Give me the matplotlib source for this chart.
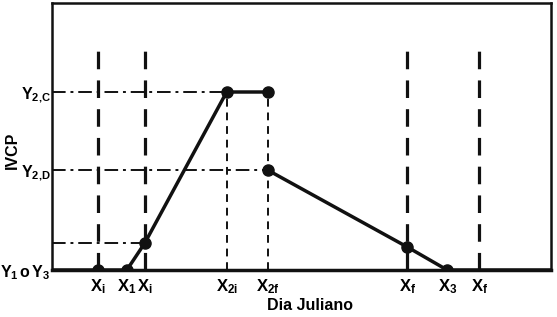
import matplotlib.pyplot as plt

plt.rcParams["font.family"] = ["Liberation Sans", "DejaVu Sans"]
plt.rcParams["mathtext.fontset"] = "custom"
plt.rcParams["mathtext.rm"] = "Liberation Sans"
plt.rcParams["mathtext.it"] = "Liberation Sans"
plt.rcParams["mathtext.bf"] = "Liberation Sans:bold"

# key positions on the Julian day axis (arbitrary units)
x_key = {"Xi_a": 46, "X1": 75, "Xi_b": 93, "X2i": 175, "X2f": 216,
         "Xf_a": 356, "X3": 396, "Xf_b": 428}
y_key = {"base": 0, "Y2D": 100, "Y2C": 178, "low": 27, "xf_pt": 23}

# curve segments
seg1_x = [0, x_key["Xi_a"], x_key["X1"], x_key["Xi_b"], x_key["X2i"], x_key["X2f"]]
seg1_y = [0, 0, 0, y_key["low"], y_key["Y2C"], y_key["Y2C"]]
seg2_x = [x_key["X2f"], x_key["Xf_a"], x_key["X3"], 500]
seg2_y = [y_key["Y2D"], y_key["xf_pt"], 0, 0]

mark_x = [x_key["Xi_a"], x_key["X1"], x_key["Xi_b"], x_key["X2i"], x_key["X2f"],
          x_key["X2f"], x_key["Xf_a"], x_key["X3"]]
mark_y = [0, 0, y_key["low"], y_key["Y2C"], y_key["Y2C"], y_key["Y2D"], y_key["xf_pt"], 0]

xtick_pos = [x_key["Xi_a"], x_key["X1"], x_key["Xi_b"], x_key["X2i"], x_key["X2f"],
             x_key["Xf_a"], x_key["X3"], x_key["Xf_b"]]
xtick_lab = [r"$\mathbf{X_i}$", r"$\mathbf{X_1}$", r"$\mathbf{X_i}$", r"$\mathbf{X_{2i}}$",
             r"$\mathbf{X_{2f}}$", r"$\mathbf{X_f}$", r"$\mathbf{X_3}$", r"$\mathbf{X_f}$"]
ytick_pos = [0, y_key["Y2D"], y_key["Y2C"]]
ytick_lab = [r"$\mathbf{Y_1\,o\,Y_3}$", r"$\mathbf{Y_{2{,}D}}$", r"$\mathbf{Y_{2{,}C}}$"]

fig = plt.figure(figsize=(5.57, 3.17), dpi=100)
ax = fig.add_axes([52 / 557, 47 / 317, 499 / 557, 267 / 317])
ax.set_xlim(0, 500)
ax.set_ylim(0, 267)

# long thick dashed verticals
for xv in [x_key["Xi_a"], x_key["Xi_b"], x_key["Xf_a"], x_key["Xf_b"]]:
    ax.plot([xv, xv], [0, 225], color="#111111", lw=2.3, dashes=(5.5, 3.5))

# thin dashed verticals from the plateau
for xv in [x_key["X2i"], x_key["X2f"]]:
    ax.plot([xv, xv], [0, y_key["Y2C"]], color="#111111", lw=1.4, dashes=(4, 3))

# dash-dot horizontals
dd = (7, 2.5, 1.5, 2.5)
ax.plot([0, x_key["X2i"]], [y_key["Y2C"]] * 2, color="#111111", lw=1.4, dashes=dd)
ax.plot([0, x_key["X2f"]], [y_key["Y2D"]] * 2, color="#111111", lw=1.4, dashes=dd)
ax.plot([0, x_key["Xi_b"]], [y_key["low"]] * 2, color="#111111", lw=1.4, dashes=dd)

ax.plot(seg1_x, seg1_y, color="#111111", lw=2.5, solid_capstyle="butt")
ax.plot(seg2_x, seg2_y, color="#111111", lw=2.5, solid_capstyle="butt")
ax.plot(mark_x, mark_y, "o", color="#111111", ms=8, zorder=5)

ax.set_xticks(xtick_pos)
ax.set_xticklabels(xtick_lab, fontsize=12)
ax.set_yticks(ytick_pos)
ax.set_yticklabels(ytick_lab, fontsize=11.5)
ax.tick_params(length=0)
ax.tick_params(axis="x", pad=5)
ax.tick_params(axis="y", pad=1)

for s in ax.spines.values():
    s.set_linewidth(1.8)
    s.set_color("#111111")
ax.spines["bottom"].set_linewidth(2.5)

ax.set_xlabel("Dia Juliano", fontsize=11.5, fontweight="bold")
ax.xaxis.set_label_coords(0.518, -0.105)
ax.xaxis.label.set_va("top")
fig.text(12 / 557, 1 - 150 / 317, "IVCP", rotation=90, fontsize=11.5, fontweight="bold",
         ha="center", va="center")

fig.savefig("out.png", dpi=100)
